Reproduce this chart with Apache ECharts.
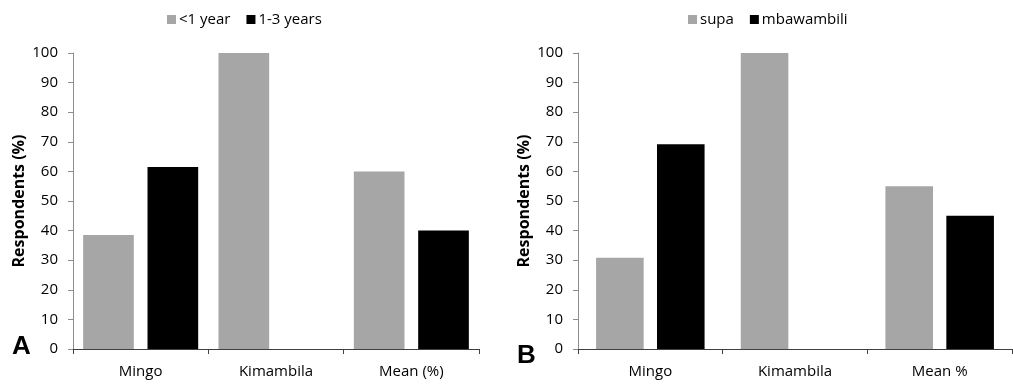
<!DOCTYPE html>
<html>
<head>
<meta charset="utf-8">
<script src="https://cdn.jsdelivr.net/npm/echarts@6/dist/echarts.min.js"></script>
<style>html,body{margin:0;padding:0;background:#fff;}#c{width:1013px;height:390px;}</style>
</head>
<body>
<div id="c"></div>
<script>
const categoriesA = ['Mingo', 'Kimambila', 'Mean (%)'];
const categoriesB = ['Mingo', 'Kimambila', 'Mean %'];
const seriesNamesA = ['<1 year', '1-3 years'];
const seriesNamesB = ['supa', 'mbawambili'];
const lessThan1Year = [38.5, 100, 60];
const oneTo3Years = [61.5, 0, 40];
const supa = [30.8, 100, 55];
const mbawambili = [69.2, 0, 45];
const yTicks = [0, 10, 20, 30, 40, 50, 60, 70, 80, 90, 100];
const yTitle = 'Respondents (%)';
const panelLabels = ['A', 'B'];

const FONT = 'Open Sans';
const GRAY = '#a6a6a6';
const BLACK = '#000000';

const chart = echarts.init(document.getElementById('c'));

function xAxis(idx, cats) {
  return {
    type: 'category', gridIndex: idx, data: cats,
    axisLine: { lineStyle: { color: '#404040', width: 1 } },
    axisTick: { show: true, length: 5, alignWithLabel: false, lineStyle: { color: '#404040' } },
    axisLabel: { color: '#000', fontFamily: FONT, fontSize: 15, margin: 15 }
  };
}
function yAxis(idx) {
  return {
    type: 'value', gridIndex: idx, min: yTicks[0], max: yTicks[yTicks.length - 1], interval: 10,
    name: yTitle, nameLocation: 'middle', nameGap: 46,
    nameTextStyle: { color: '#000', fontFamily: FONT, fontSize: 16, fontWeight: 'bold' },
    axisLine: { show: true, lineStyle: { color: '#8c8c8c', width: 1 } },
    axisTick: { show: true, length: 5, lineStyle: { color: '#8c8c8c' } },
    splitLine: { show: false },
    axisLabel: { color: '#000', fontFamily: FONT, fontSize: 15, margin: 15 }
  };
}

chart.setOption({
  animation: false,
  grid: [
    { left: 73, right: 534, top: 53, bottom: 41 },
    { left: 578, right: 1, top: 53, bottom: 41 }
  ],
  legend: [
    { data: seriesNamesA, left: 162, top: 7, itemWidth: 9, itemHeight: 9, itemGap: 16,
      textStyle: { fontFamily: FONT, fontSize: 15, color: '#000', padding: [0, 0, 0, -2] }, icon: 'rect' },
    { data: seriesNamesB, left: 683, top: 7, itemWidth: 9, itemHeight: 9, itemGap: 16,
      textStyle: { fontFamily: FONT, fontSize: 15, color: '#000', padding: [0, 0, 0, -2] }, icon: 'rect' }
  ],
  xAxis: [xAxis(0, categoriesA), xAxis(1, categoriesB)],
  yAxis: [yAxis(0), yAxis(1)],
  series: [
    { name: seriesNamesA[0], type: 'bar', xAxisIndex: 0, yAxisIndex: 0, data: lessThan1Year,
      itemStyle: { color: GRAY }, barGap: '27%', barCategoryGap: '15%' },
    { name: seriesNamesA[1], type: 'bar', xAxisIndex: 0, yAxisIndex: 0, data: oneTo3Years,
      itemStyle: { color: BLACK }, barGap: '27%', barCategoryGap: '15%' },
    { name: seriesNamesB[0], type: 'bar', xAxisIndex: 1, yAxisIndex: 1, data: supa,
      itemStyle: { color: GRAY }, barGap: '28%', barCategoryGap: '25%' },
    { name: seriesNamesB[1], type: 'bar', xAxisIndex: 1, yAxisIndex: 1, data: mbawambili,
      itemStyle: { color: BLACK }, barGap: '28%', barCategoryGap: '25%' }
  ],
  graphic: [
    { type: 'text', left: 12, top: 334, style: { text: panelLabels[0], font: 'bold 26px "Liberation Sans"', fill: '#000' } },
    { type: 'text', left: 517, top: 343, style: { text: panelLabels[1], font: 'bold 26px "Liberation Sans"', fill: '#000' } }
  ]
});
</script>
</body>
</html>
